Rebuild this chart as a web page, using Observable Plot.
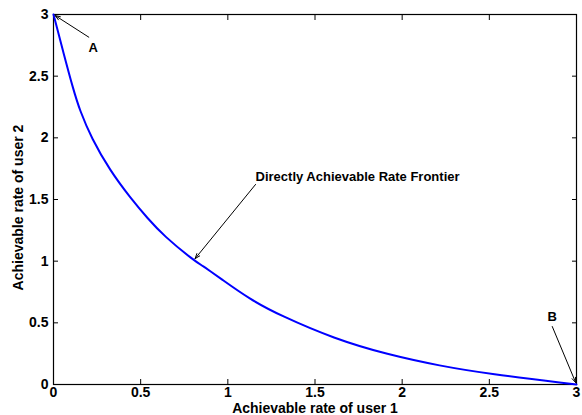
<!DOCTYPE html>
<html>
<head>
<meta charset="utf-8">
<script src="https://cdn.jsdelivr.net/npm/d3@7"></script>
<script src="https://cdn.jsdelivr.net/npm/@observablehq/plot@0.6"></script>
<style>
  html, body { margin: 0; padding: 0; background: #fff; }
  #chart svg { display: block; }
</style>
</head>
<body>
<div id="chart"></div>
<script>
// Frontier curve (rate of user 1, rate of user 2)
const rate1 = [0, 0.057, 0.113, 0.151, 0.218, 0.324, 0.44, 0.541, 0.633, 0.805, 0.86, 0.90, 0.95, 1.13, 1.30, 1.61, 1.915, 2.22, 2.49, 3.0];
const rate2 = [3, 2.69, 2.395, 2.222, 1.997, 1.735, 1.515, 1.345, 1.205, 1.005, 0.958, 0.918, 0.868, 0.687, 0.56, 0.371, 0.243, 0.15, 0.087, 0];

const xTicks = [0, 0.5, 1, 1.5, 2, 2.5, 3];
const yTicks = [0, 0.5, 1, 1.5, 2, 2.5, 3];

const xLabel = "Achievable rate of user 1";
const yLabel = "Achievable rate of user 2";

// Annotations: text anchors and arrows (data units)
const pointLabels = [
  {text: "A", x: 0.227, y: 2.73},
  {text: "B", x: 2.861, y: 0.546}
];
const frontierLabel = [{text: "Directly Achievable Rate Frontier", x: 1.159, y: 1.686}];
const arrows = [
  {x1: 0.2025, y1: 2.816, x2: 0, y2: 3},
  {x1: 2.861, y1: 0.47, x2: 3, y2: 0},
  {x1: 1.159, y1: 1.622, x2: 0.805, y2: 1.008}
];

const curve = rate1.map((x, i) => ({x, y: rate2[i]}));
const font = "'Liberation Sans', Arial, Helvetica, sans-serif";

const plot = Plot.plot({
  width: 582,
  height: 415,
  marginLeft: 53,
  marginRight: 6,
  marginTop: 14,
  marginBottom: 31,
  style: {fontFamily: font, fontWeight: "bold", fontSize: "14px", color: "#000", background: "#fff"},
  x: {domain: [0, 3], ticks: xTicks, tickFormat: d => String(d)},
  y: {domain: [0, 3], ticks: yTicks, tickFormat: d => String(d)},
  marks: [
    Plot.frame({stroke: "#000", strokeWidth: 1.2}),
    Plot.axisX(xTicks, {anchor: "bottom", tickSize: -5, text: null, label: null, stroke: "#000"}),
    Plot.axisX(xTicks, {anchor: "top", tickSize: -5, text: null, label: null, stroke: "#000"}),
    Plot.axisY(yTicks, {anchor: "left", tickSize: -5, text: null, label: null, stroke: "#000"}),
    Plot.axisY(yTicks, {anchor: "right", tickSize: -5, text: null, label: null, stroke: "#000"}),
    Plot.axisX(xTicks, {anchor: "bottom", tickSize: 0, tickPadding: 3, label: null, fill: "#000", fontSize: 14, fontWeight: "bold", tickFormat: d => String(d)}),
    Plot.axisY(yTicks, {anchor: "left", tickSize: 0, tickPadding: 5, label: null, fill: "#000", fontSize: 14, fontWeight: "bold", tickFormat: d => String(d)}),
    Plot.text([xLabel], {frameAnchor: "bottom", dy: 28, text: d => d, fontSize: 14, fontWeight: "bold", fill: "#000"}),
    Plot.text([yLabel], {frameAnchor: "left", textAnchor: "middle", lineAnchor: "middle", dx: -35, dy: 8, rotate: -90, text: d => d, fontSize: 14, fontWeight: "bold", fill: "#000"}),
    Plot.line(curve, {x: "x", y: "y", stroke: "#0000ff", strokeWidth: 2, curve: "basis"}),
    Plot.arrow(arrows, {x1: "x1", y1: "y1", x2: "x2", y2: "y2", stroke: "#000", strokeWidth: 1, headLength: 8, headAngle: 40, insetEnd: 2}),
    Plot.text(pointLabels, {x: "x", y: "y", text: "text", textAnchor: "middle", fontSize: 13, fontWeight: "bold", fill: "#000"}),
    Plot.text(frontierLabel, {x: "x", y: "y", text: "text", textAnchor: "start", fontSize: 13, fontWeight: "bold", fill: "#000"})
  ]
});

document.getElementById("chart").appendChild(plot);
</script>
</body>
</html>
